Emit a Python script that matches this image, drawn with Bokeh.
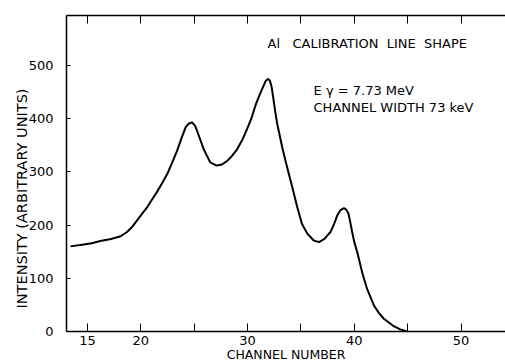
from bokeh.plotting import figure
from bokeh.models import Range1d, FixedTicker, LinearAxis, Label, Title
from bokeh.embed import file_html
from bokeh.resources import INLINE

# Line shape of the Al calibration gamma line (E = 7.73 MeV)
channel = [13.4, 14.5, 15.4, 16.2, 17.2, 18.1, 18.7, 19.2, 19.65, 20.1,
           20.6, 21.05, 21.5, 22.0, 22.47, 22.9, 23.4, 23.8, 24.2, 24.5,
           24.8, 25.1, 25.45, 25.9, 26.5, 27.1, 27.6, 28.05, 28.5, 29.0,
           29.5, 29.9, 30.35, 30.74, 31.05, 31.37, 31.7, 31.93, 32.1, 32.25,
           32.4, 32.6, 32.78, 33.25, 33.7, 34.19, 34.65, 35.1, 35.6, 36.2,
           36.7, 37.2, 37.77, 38.1, 38.4, 38.7, 39.03, 39.25, 39.45, 39.6,
           39.8, 40.0, 40.28, 40.74, 41.2, 41.84, 42.3, 42.77, 43.7, 44.3,
           44.8, 45.0]
intensity = [160, 163, 166, 170, 174, 179, 187, 197, 209, 221,
             234, 248, 262, 279, 296, 316, 340, 363, 384, 391,
             393, 386, 367, 342, 318, 312, 314, 320, 329, 342,
             360, 378, 400, 425, 441, 456, 471, 475, 471, 460,
             440, 412, 390, 346, 309, 271, 234, 202, 184, 171,
             168, 174, 187, 202, 218, 228, 232, 229, 222, 208,
             187, 168, 149, 111, 80, 49, 35, 24, 10, 4,
             1, 0]

x_ticks = [15, 20, 25, 30, 35, 40, 45, 50]
x_tick_labels = {15: "15", 20: "20", 25: "", 30: "30", 35: "", 40: "40", 45: "", 50: "50"}
y_ticks = [0, 100, 200, 300, 400, 500]

FONT = "DejaVu Sans"

p = figure(width=505, height=362, output_backend="svg", toolbar_location=None,
           x_range=Range1d(13.03, 54.17), y_range=Range1d(0, 594),
           min_border_left=66, min_border_right=0, min_border_top=15,
           min_border_bottom=31)
p.outline_line_color = None
p.grid.visible = False
p.background_fill_color = "white"
p.border_fill_color = "white"

# bottom axis
xa = p.xaxis[0]
xa.ticker = FixedTicker(ticks=x_ticks)
xa.major_label_overrides = x_tick_labels
xa.major_tick_in = 8
xa.major_tick_out = 0
xa.minor_tick_line_color = None
xa.major_label_standoff = 4
xa.major_label_text_font = FONT
xa.major_label_text_font_size = "13px"
xa.major_label_text_color = "black"
xa.axis_line_width = 1.5

# left axis
ya = p.yaxis[0]
ya.ticker = FixedTicker(ticks=y_ticks)
ya.major_tick_in = 4
ya.major_tick_out = 0
ya.minor_tick_line_color = None
ya.major_label_standoff = 13
ya.major_label_text_font = FONT
ya.major_label_text_font_size = "13px"
ya.major_label_text_color = "black"
ya.axis_line_width = 1.5

# top axis: inward ticks only
top = LinearAxis(ticker=FixedTicker(ticks=x_ticks),
                 major_label_overrides={t: "" for t in x_ticks},
                 major_tick_in=8, major_tick_out=0,
                 minor_tick_line_color=None, axis_line_width=1.5,
                 major_label_text_font_size="1px")
p.add_layout(top, "above")

# axis titles
p.add_layout(Title(text="CHANNEL NUMBER", align="center", vertical_align="middle",
                   text_font=FONT, text_font_size="12.5px", text_color="black",
                   text_font_style="normal", standoff=-4), "below")
p.add_layout(Title(text="INTENSITY (ARBITRARY UNITS)", align="left", offset=23,
                   vertical_align="middle",
                   text_font=FONT, text_font_size="14.5px", text_color="black",
                   text_font_style="normal", standoff=-10), "left")

p.line(channel, intensity, line_color="black", line_width=2)

def note(x, y, txt):
    p.add_layout(Label(x=x, y=y, text=txt, text_align="left", text_baseline="middle",
                       text_font=FONT, text_font_size="13px", text_color="black"))

note(31.87, 541, "Al\u00a0\u00a0\u00a0CALIBRATION\u00a0 LINE\u00a0 SHAPE")
note(36.18, 453, "E\u00a0γ = 7.73 MeV")
note(36.18, 421, "CHANNEL WIDTH 73 keV")

open("out.html", "w").write(file_html(p, INLINE))
